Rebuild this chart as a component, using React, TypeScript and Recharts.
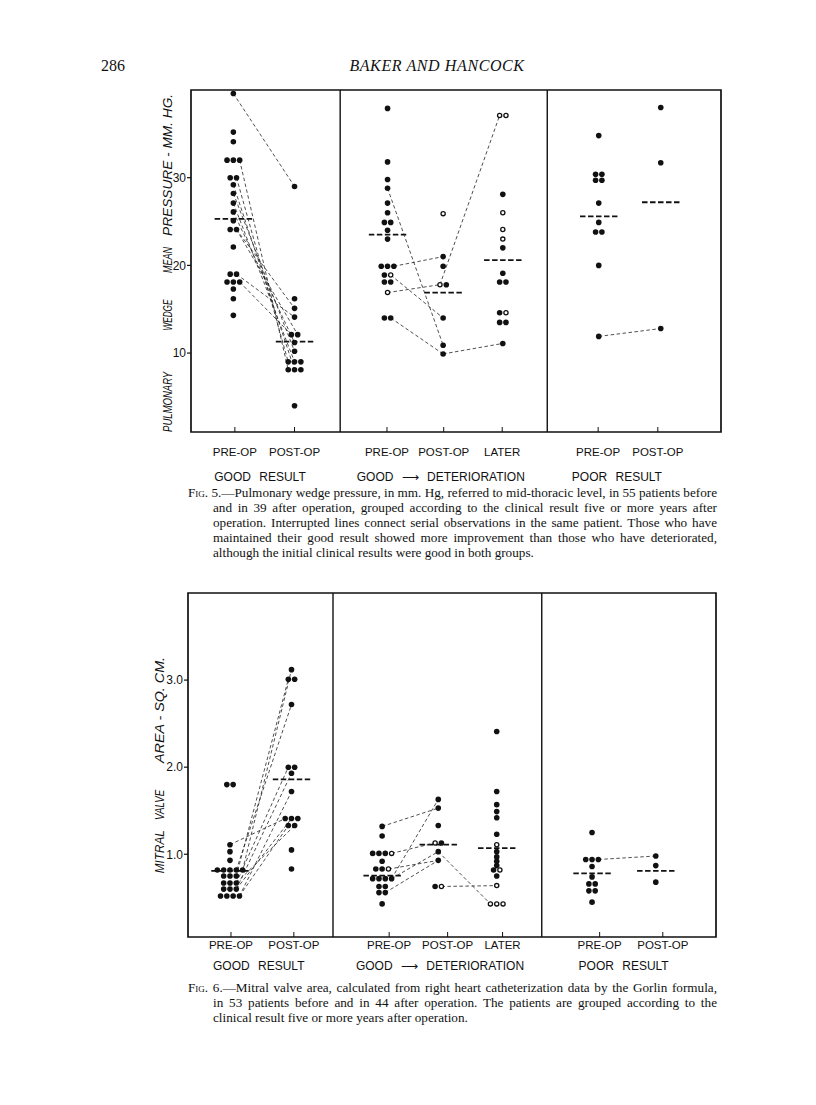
import React from 'react';
import { ScatterChart, Scatter, XAxis, YAxis, ReferenceLine, ReferenceArea } from 'recharts';

type Entry = number | [number, number]; // [value, 1 = open circle]
type Link = number[]; // [catA, valueA, catB, valueB, slotA?, slotB?]

// ---------- Fig. 5: pulmonary wedge pressure (mm Hg) ----------
const F5_GOOD_PRE: Entry[] = [39.6, 35.2, 34.1, 32, 32, 32, 30, 30, 29.2, 28.2, 27.1, 26.1, 25.1, 24.1, 24.1, 22.1, 19, 19, 18.1, 18.1, 18.1, 17.3, 16.2, 14.3];
const F5_GOOD_POST: Entry[] = [29, 16.2, 15.1, 14.1, 12.1, 12.1, 11.2, 10.2, 9, 9, 9, 8.1, 8.1, 8.1, 4];
const F5_DET_PRE: Entry[] = [37.9, 31.8, 29.8, 28.8, 27.1, 26, 24.9, 24.9, 24, 23, 19.9, 19.9, 19.9, 18.9, [18.9, 1], 18.1, 18.1, [16.9, 1], 14, 14];
const F5_DET_POST: Entry[] = [[25.9, 1], 21, 19.9, [17.8, 1], 17.8, 14, 10.9, 9.9];
const F5_DET_LATER: Entry[] = [[37.1, 1], [37.1, 1], 28.1, [26, 1], [24.1, 1], [23, 1], 22, 19.1, 18.1, 18.1, 14.6, [14.6, 1], 13.5, 13.5, 11.1];
const F5_POOR_PRE: Entry[] = [34.8, 30.4, 30.4, 29.7, 29.7, 27.1, 24.9, 23.8, 23.8, 20, 11.9];
const F5_POOR_POST: Entry[] = [38, 31.7, 12.8];
const F5_MEANS = [25.3, 11.3, 23.5, 16.9, 20.6, 25.6, 27.2];
const F5_LINKS: Link[] = [
  [0, 39.6, 1, 29], [0, 32, 1, 8.1], [0, 30, 1, 9], [0, 29.2, 1, 8.1, 0, 1], [0, 28.2, 1, 10.2],
  [0, 27.1, 1, 9, 0, 1], [0, 26.1, 1, 11.2], [0, 24.1, 1, 15.1], [0, 24.1, 1, 12.1, 1, 1],
  [0, 19, 1, 14.1], [0, 18.1, 1, 12.1],
  [2, 28.8, 3, 10.9], [2, 19.9, 3, 21], [2, 16.9, 3, 17.8], [3, 17.8, 4, 37.1, 0, 0],
  [2, 18.9, 3, 14], [2, 14, 3, 9.9], [3, 9.9, 4, 11.1],
  [5, 11.9, 6, 12.8],
];
const F5_Y_TICKS = [10, 20, 30];
const F5_CAT_LABELS = ['PRE-OP', 'POST-OP', 'PRE-OP', 'POST-OP', 'LATER', 'PRE-OP', 'POST-OP'];
const F5_GROUPS = ['GOOD RESULT', 'GOOD \u27F6 DETERIORATION', 'POOR RESULT'];
const F5_TITLE = ['PULMONARY', 'WEDGE', 'MEAN', 'PRESSURE - MM. HG.'];

// ---------- Fig. 6: mitral valve area (sq cm) ----------
const F6_GOOD_PRE: Entry[] = [1.8, 1.8, 1.11, 1.03, 0.93, 0.82, 0.82, 0.82, 0.82, 0.82, 0.75, 0.75, 0.75, 0.67, 0.67, 0.67, 0.6, 0.6, 0.6, 0.52, 0.52, 0.52, 0.52];
const F6_GOOD_POST: Entry[] = [3.12, 3.01, 3.01, 2.72, 2.0, 2.0, 1.93, 1.72, 1.41, 1.41, 1.41, 1.33, 1.33, 1.05, 0.83];
const F6_DET_PRE: Entry[] = [1.32, 1.21, 1.01, 1.01, 1.01, [1.01, 1], 0.92, 0.83, 0.83, [0.83, 1], 0.72, 0.72, 0.72, 0.72, 0.63, 0.63, 0.56, 0.56, 0.43];
const F6_DET_POST: Entry[] = [1.63, 1.53, 1.33, [1.13, 1], 1.13, 1.03, 0.93, 0.63, [0.63, 1]];
const F6_DET_LATER: Entry[] = [2.41, 1.72, 1.57, 1.49, 1.42, 1.23, [1.11, 1], 1.03, 0.97, 0.92, 0.87, 0.82, [0.82, 1], 0.75, [0.64, 1], [0.43, 1], [0.43, 1], [0.43, 1]];
const F6_POOR_PRE: Entry[] = [1.25, 0.94, 0.94, 0.94, 0.86, 0.74, 0.66, 0.66, 0.58, 0.58, 0.45];
const F6_POOR_POST: Entry[] = [0.98, 0.87, 0.68];
const F6_MEANS = [0.81, 1.86, 0.755, 1.11, 1.07, 0.78, 0.81];
const F6_LINKS: Link[] = [
  [0, 1.11, 1, 1.41], [0, 0.82, 1, 3.12], [0, 0.75, 1, 3.01], [0, 0.82, 1, 2.72, 3, 0],
  [0, 0.67, 1, 2.0], [0, 0.6, 1, 1.93], [0, 0.52, 1, 1.72], [0, 0.6, 1, 1.41, 2, 1],
  [0, 0.52, 1, 1.33], [0, 0.67, 1, 1.33, 2, 1],
  [2, 1.32, 3, 1.53], [2, 0.72, 3, 1.63], [2, 1.01, 3, 1.13], [2, 0.83, 3, 0.93],
  [2, 0.72, 3, 1.03, 3, 0], [2, 0.56, 3, 0.93], [3, 1.03, 4, 0.43], [3, 0.63, 4, 0.64],
  [5, 0.94, 6, 0.98],
];
const F6_Y_TICKS = [1, 2, 3];
const F6_CAT_LABELS = F5_CAT_LABELS;
const F6_GROUPS = F5_GROUPS;
const F6_TITLE = ['MITRAL', 'VALVE', 'AREA - SQ. CM.'];

// ---------- layout (axis units: one category step ≈ 1) ----------
const DX = 0.108;
const F5_LAYOUT = {
  catX: [0.724, 1.77, 3.36, 4.31, 5.33, 6.97, 8.03],
  tickX: [0.75, 1.77, 3.35, 4.32, 5.32, 6.96, 7.98],
  groupX: [1.18, 4.27, 7.28],
  seps: [2.55, 6.09],
  xMax: 9.06,
  yDomain: [1, 40] as [number, number],
  titlePos: [0.912, 0.658, 0.497, 0.219],
  titleLen: [60, 31, 26, 142],
  titleOff: 23,
};
const F6_LAYOUT = {
  catX: [0.718, 1.77, 3.32, 4.28, 5.28, 6.91, 8.0],
  tickX: [0.735, 1.81, 3.44, 4.44, 5.38, 7.04, 8.12],
  groupX: [1.21, 4.31, 7.45],
  seps: [2.48, 6.05],
  xMax: 9.03,
  yDomain: [0.05, 4] as [number, number],
  titlePos: [0.752, 0.616, 0.34],
  titleLen: [43, 30, 106],
  titleOff: 28,
};

function buildDots(cats: Entry[][], catX: number[]) {
  const filled: { x: number; y: number }[] = [];
  const open: { x: number; y: number }[] = [];
  const rows: Map<number, number[]>[] = [];
  cats.forEach((entries, ci) => {
    const groups = new Map<number, [number, number][]>();
    entries.forEach((e) => {
      const t: [number, number] = typeof e === 'number' ? [e, 0] : e;
      if (!groups.has(t[0])) groups.set(t[0], []);
      groups.get(t[0])!.push(t);
    });
    const rowMap = new Map<number, number[]>();
    groups.forEach((list, v) => {
      const n = list.length;
      const xs = list.map((_, i) => catX[ci] + (i - (n - 1) / 2) * DX);
      rowMap.set(v, xs);
      list.forEach((t, i) => (t[1] ? open : filled).push({ x: xs[i], y: v }));
    });
    rows.push(rowMap);
  });
  return { filled, open, rows };
}

const FilledDot = (p: any) => <circle cx={p.cx} cy={p.cy} r={2.8} fill="#111" />;
const OpenDot = (p: any) => <circle cx={p.cx} cy={p.cy} r={2.1} fill="#fff" stroke="#111" strokeWidth={1.3} />;
const NoDot = () => <g />;

const SANS = '"Liberation Sans", Arial, sans-serif';

function Figure(props: {
  cats: Entry[][]; means: number[]; links: Link[]; yTicks: number[]; yFmt: (v: number) => string;
  catLabels: string[]; groups: string[]; title: string[]; L: typeof F5_LAYOUT;
  marginLeft: number; marginRight: number; xAxisH: number; labelDy: number; groupDy: number;
}) {
  const { cats, means, links, yTicks, yFmt, catLabels, groups, title, L } = props;
  const { filled, open, rows } = buildDots(cats, L.catX);
  const tickMap = new Map<number, { t: string; g: boolean }>();
  L.tickX.forEach((x, i) => tickMap.set(x, { t: catLabels[i], g: false }));
  L.groupX.forEach((x, i) => tickMap.set(x, { t: groups[i], g: true }));
  const ticks = [...L.tickX, ...L.groupX];

  const renderTick = (p: any) => {
    const info = tickMap.get(p.payload.value);
    if (!info) return <g />;
    if (info.g) {
      return (
        <text x={p.x} y={p.y + props.groupDy} textAnchor="middle" fontFamily={SANS} fontSize={12} fill="#111" style={{ wordSpacing: 5 }}>
          {info.t}
        </text>
      );
    }
    return (
      <g>
        <line x1={p.x} x2={p.x} y1={p.y} y2={p.y - 5} stroke="#111" strokeWidth={1} />
        <text x={p.x} y={p.y + props.labelDy} textAnchor="middle" fontFamily={SANS} fontSize={11.5} fill="#111">
          {info.t}
        </text>
      </g>
    );
  };

  const renderTitle = (p: any) => {
    const vb = p.viewBox || {};
    const cx = vb.x + vb.width - L.titleOff;
    return (
      <g>
        {title.map((w, i) => {
          const cy = vb.y + vb.height * L.titlePos[i];
          return (
            <text key={i} x={cx} y={cy} transform={`rotate(-90 ${cx} ${cy})`} textAnchor="middle" dominantBaseline="central"
              fontFamily={SANS} fontStyle="italic" fontSize={13.5} fill="#111" textLength={L.titleLen[i]} lengthAdjust="spacingAndGlyphs">
              {w}
            </text>
          );
        })}
      </g>
    );
  };

  const linkData = links.map((lk) => {
    const [ca, va, cb, vb, sa, sb] = lk;
    const xa = rows[ca].get(va) || [L.catX[ca]];
    const xb = rows[cb].get(vb) || [L.catX[cb]];
    return [
      { x: xa[sa === undefined ? xa.length - 1 : sa], y: va },
      { x: xb[sb === undefined ? 0 : sb], y: vb },
    ];
  });

  return (
    <ScatterChart width={760} height={420} margin={{ top: 10, right: props.marginRight, bottom: 0, left: props.marginLeft }}>
      <XAxis type="number" dataKey="x" domain={[0, L.xMax]} ticks={ticks} interval={0} axisLine={false} tickLine={false}
        tickSize={0} tickMargin={0} height={props.xAxisH} tick={renderTick} allowDataOverflow />
      <YAxis type="number" dataKey="y" domain={L.yDomain} ticks={yTicks} width={41} axisLine={false}
        tickLine={{ stroke: '#111', strokeWidth: 1.2 }} tickSize={4} tickMargin={1} tickFormatter={yFmt}
        tick={{ fontFamily: SANS, fontSize: 12, fill: '#111' }} allowDataOverflow label={{ content: renderTitle }} />
      <ReferenceArea x1={0} x2={L.xMax} y1={L.yDomain[0]} y2={L.yDomain[1]} fill="none" fillOpacity={0} stroke="#111" strokeWidth={1.7} ifOverflow="extendDomain" />
      {L.seps.map((s, i) => (
        <ReferenceLine key={'s' + i} x={s} stroke="#111" strokeWidth={1.4} />
      ))}
      {linkData.map((d, i) => (
        <Scatter key={'l' + i} data={d} isAnimationActive={false} shape={NoDot}
          line={{ stroke: '#222', strokeWidth: 0.8, strokeDasharray: '3.5 2.5' }} />
      ))}
      {means.map((m, i) => (
        <ReferenceLine key={'m' + i} segment={[{ x: L.catX[i] - 0.32, y: m }, { x: L.catX[i] + 0.32, y: m }]}
          stroke="#111" strokeWidth={1.8} strokeDasharray="5.5 2.5" />
      ))}
      <Scatter data={filled} isAnimationActive={false} shape={FilledDot} />
      <Scatter data={open} isAnimationActive={false} shape={OpenDot} />
    </ScatterChart>
  );
}

const CAP5 = [
  'and in 39 after operation, grouped according to the clinical result five or more years after',
  'operation. Interrupted lines connect serial observations in the same patient. Those who have',
  'maintained their good result showed more improvement than those who have deteriorated,',
  'although the initial clinical results were good in both groups.',
];
const CAP5_FIRST = '5.\u2014Pulmonary wedge pressure, in mm. Hg, referred to mid-thoracic level, in 55 patients before';
const CAP6 = [
  'in 53 patients before and in 44 after operation. The patients are grouped according to the',
  'clinical result five or more years after operation.',
];
const CAP6_FIRST = '6.\u2014Mitral valve area, calculated from right heart catheterization data by the Gorlin formula,';

const SERIF = '"Liberation Serif", "Times New Roman", serif';

function Caption(props: { top: number; first: string; rest: string[] }) {
  return (
    <div style={{ position: 'absolute', left: 188, top: props.top, width: 529, fontFamily: SERIF, fontSize: 13.2, lineHeight: '15px', color: '#111' }}>
      <div style={{ textAlign: 'justify', textAlignLast: 'justify', whiteSpace: 'nowrap' }}>
        <span style={{ fontVariant: 'small-caps' }}>Fig.</span> {props.first}
      </div>
      {props.rest.map((l, i) => (
        <div key={i} style={{ marginLeft: 25, whiteSpace: 'nowrap', textAlign: 'justify', textAlignLast: i === props.rest.length - 1 ? 'left' : 'justify' }}>
          {l}
        </div>
      ))}
    </div>
  );
}

export default function App() {
  return (
    <div style={{ position: 'absolute', left: 0, top: 0, width: 816, height: 1105, background: '#fff', overflow: 'hidden' }}>
      <div style={{ position: 'absolute', left: 101, top: 57, fontFamily: SERIF, fontSize: 16, color: '#111' }}>286</div>
      <div style={{ position: 'absolute', left: 300, width: 274, top: 57, textAlign: 'center', fontFamily: SERIF, fontStyle: 'italic', fontSize: 16, letterSpacing: 0.6, color: '#111' }}>
        BAKER AND HANCOCK
      </div>

      <div style={{ position: 'absolute', left: 0, top: 80 }}>
        <Figure cats={[F5_GOOD_PRE, F5_GOOD_POST, F5_DET_PRE, F5_DET_POST, F5_DET_LATER, F5_POOR_PRE, F5_POOR_POST]}
          means={F5_MEANS} links={F5_LINKS} yTicks={F5_Y_TICKS} yFmt={(v) => String(v)}
          catLabels={F5_CAT_LABELS} groups={F5_GROUPS} title={F5_TITLE} L={F5_LAYOUT}
          marginLeft={150} marginRight={39} xAxisH={68} labelDy={24} groupDy={49} />
      </div>
      <Caption top={485} first={CAP5_FIRST} rest={CAP5} />

      <div style={{ position: 'absolute', left: 0, top: 583 }}>
        <Figure cats={[F6_GOOD_PRE, F6_GOOD_POST, F6_DET_PRE, F6_DET_POST, F6_DET_LATER, F6_POOR_PRE, F6_POOR_POST]}
          means={F6_MEANS} links={F6_LINKS} yTicks={F6_Y_TICKS} yFmt={(v) => v.toFixed(1)}
          catLabels={F6_CAT_LABELS} groups={F6_GROUPS} title={F6_TITLE} L={F6_LAYOUT}
          marginLeft={147} marginRight={44} xAxisH={66} labelDy={12} groupDy={33} />
      </div>
      <Caption top={980} first={CAP6_FIRST} rest={CAP6} />
    </div>
  );
}
